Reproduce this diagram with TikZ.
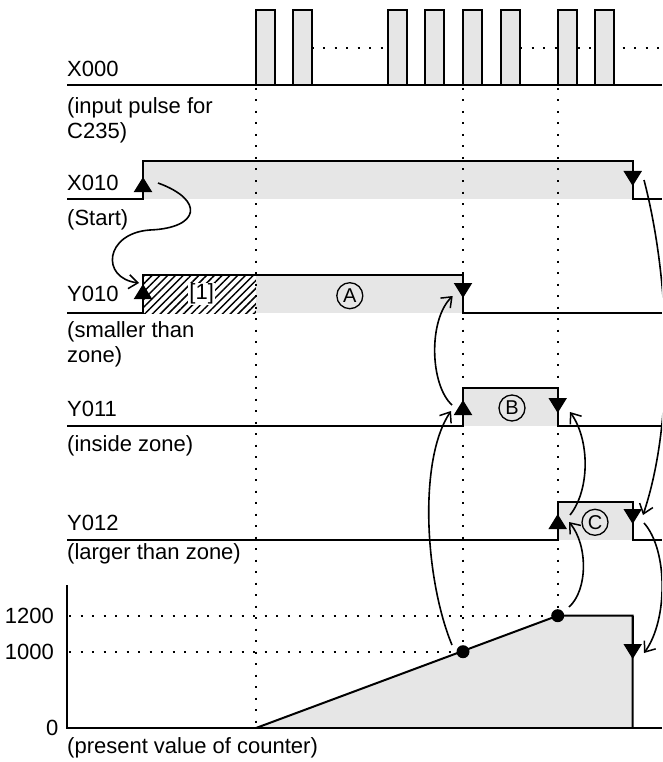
\documentclass[tikz,border=0pt]{standalone}
\usepackage{fontspec}
\setmainfont{Liberation Sans}
\usetikzlibrary{arrows.meta, patterns.meta}
\definecolor{sigfill}{RGB}{230,230,230}
\tikzset{
  signal/.style={line width=2pt},
  guide/.style={line width=2pt, dash pattern=on 2pt off 9.5pt},
  cause/.style={line width=1.6pt, -{Straight Barb[length=9pt,width=14pt,line width=1.5pt]}},
  edgemark/.style={line width=2pt, -{Triangle[length=15pt,width=18pt]}},
  lbl/.style={anchor=base west, inner sep=0pt},
  zone/.style={draw, circle, line width=1.3pt, minimum size=26pt, inner sep=0pt, font=\fontsize{20}{20}\selectfont},
}

\begin{document}
\begin{tikzpicture}[x=1pt, y=-1pt, font=\fontsize{22}{25}\selectfont]
            \useasboundingbox (0,0) rectangle (662,762);
            \clip (0,0) rectangle (662,762);

            % X000: input pulses
            \draw[guide] (311.7,47.7) -- (387.7,47.7);
            \draw[guide] (520,47.7) -- (595,47.7);
            \draw[guide] (622.7,47.7) -- (662,47.7);
            \foreach \px in {256,293,388,425,463,501,558,595}
              \draw[signal, fill=sigfill] (\px,84.7) rectangle ++(19,-74.7);
            \draw[signal] (67,84.7) -- (662,84.7);

            % X010
            \fill[sigfill] (143,161) rectangle (632.7,199);
            \draw[signal] (67,199) -- (143,199) -- (143,161) -- (632.7,161) -- (632.7,199) -- (662,199);

            % Y010
            \fill[pattern={Lines[angle=45,distance=5.5pt,line width=1.5pt]}] (143,275) rectangle (256,313);
            \fill[sigfill] (256,275) rectangle (463,313);
            \draw[signal] (67,313) -- (143,313) -- (143,275) -- (463,275) -- (463,313) -- (662,313);

            % Y011
            \fill[sigfill] (463,387.7) rectangle (557.7,425.7);
            \draw[signal] (67,425.7) -- (463,425.7) -- (463,387.7) -- (557.7,387.7) -- (557.7,425.7) -- (662,425.7);

            % Y012
            \fill[sigfill] (557.7,502) rectangle (632.7,540);
            \draw[signal] (67,540) -- (557.7,540) -- (557.7,502) -- (632.7,502) -- (632.7,540) -- (662,540);

            % present value of counter
            \coordinate (C0) at (256,728);
            \coordinate (D1000) at (463,651.7);
            \coordinate (D1200) at (557.7,615.7);
            \fill[sigfill] (C0) -- (D1200) -- (632.7,615.7) -- (632.7,728) -- cycle;
            \draw[signal] (67,585) -- (67,728) -- (662,728);
            \draw[signal] (C0) -- (D1200) -- (632.7,615.7) -- (632.7,728);

            % dotted guides
            \draw[guide] (256,88) -- (C0);
            \draw[guide] (463,88) -- (D1000);
            \draw[guide] (557.7,88) -- (D1200);
            \draw[guide] (69,615.7) -- (D1200);
            \draw[guide] (69,651.7) -- (D1000);
            \fill (D1000) circle (6.5pt);
            \fill (D1200) circle (6.5pt);

            % edge marks
            \draw[edgemark] (143,199) -- (143,177);
            \draw[edgemark] (632.7,161) -- (632.7,186);
            \draw[edgemark] (143,313) -- (143,284);
            \draw[edgemark] (463,275) -- (463,298);
            \draw[edgemark] (463,425.7) -- (463,400);
            \draw[edgemark] (557.7,387.7) -- (557.7,413);
            \draw[edgemark] (557.7,540) -- (557.7,514);
            \draw[edgemark] (632.7,502) -- (632.7,524);
            \draw[edgemark] (632.7,615.7) -- (632.7,659);

            % labels
            \node[lbl] (x000) at (67,77) {X000};
            \node[anchor=north west, inner sep=0pt, align=left] (x000note) at (67,97) {(input pulse for\\C235)};
            \node[lbl] (x010) at (67,190) {X010};
            \node[lbl] (x010note) at (67,225) {(Start)};
            \node[lbl] (y010) at (67,301) {Y010};
            \node[anchor=north west, inner sep=0pt, align=left] (y010note) at (67,321) {(smaller than\\zone)};
            \node[lbl] (y011) at (67,416) {Y011};
            \node[lbl] (y011note) at (67,451) {(inside zone)};
            \node[lbl] (y012) at (67,530.5) {Y012};
            \node[lbl] (y012note) at (67,559) {(larger than zone)};
            \node[lbl] (cvnote) at (67,753) {(present value of counter)};
            \node[anchor=east, inner sep=0pt] (v1200) at (54,615.7) {1200};
            \node[anchor=east, inner sep=0pt] (v1000) at (54,651.7) {1000};
            \node[anchor=east, inner sep=0pt] (v0) at (58.5,728) {0};
            \node[fill=white, inner sep=1pt] (note1) at (201.7,294) {[1]};
            \node[zone] (zoneA) at (349.8,295.7) {A};
            \node[zone] (zoneB) at (512,408) {B};
            \node[zone] (zoneC) at (595,522.3) {C};

            % cause and effect
            \coordinate (x010up) at (158,183);
            \coordinate (y010up) at (139,283);
            \coordinate (x010dn) at (644,180);
            \coordinate (y010dn) at (452.7,296);
            \coordinate (y011up) at (451,411);
            \coordinate (y011upS) at (452,405);
            \coordinate (y011dn) at (570,412);
            \coordinate (y012up) at (569,522);
            \coordinate (y012upS) at (570,515);
            \coordinate (y012dn) at (643,515);
            \coordinate (y012dnS) at (644,523);
            \coordinate (cvdn) at (644,653);
            \coordinate (p1000) at (452,645);
            \coordinate (p1200) at (569,607);

            \draw[cause] (x010up) .. controls (205,200) and (200,228) .. (150,230)
                                  .. controls (105,233) and (100,278) .. (y010up);
            \draw[cause] (p1000) .. controls (425,580) and (418,460) .. (y011up);
            \draw[cause] (y011upS) .. controls (430,385) and (428,320) .. (y010dn);
            \draw[cause] (p1200) .. controls (588,590) and (588,545) .. (y012up);
            \draw[cause] (y012upS) .. controls (590,490) and (590,440) .. (y011dn);
            \draw[cause] (x010dn) .. controls (670,280) and (675,420) .. (y012dn);
            \draw[cause] (y012dnS) .. controls (668,550) and (668,620) .. (cvdn);
        \end{tikzpicture}
\end{document}
